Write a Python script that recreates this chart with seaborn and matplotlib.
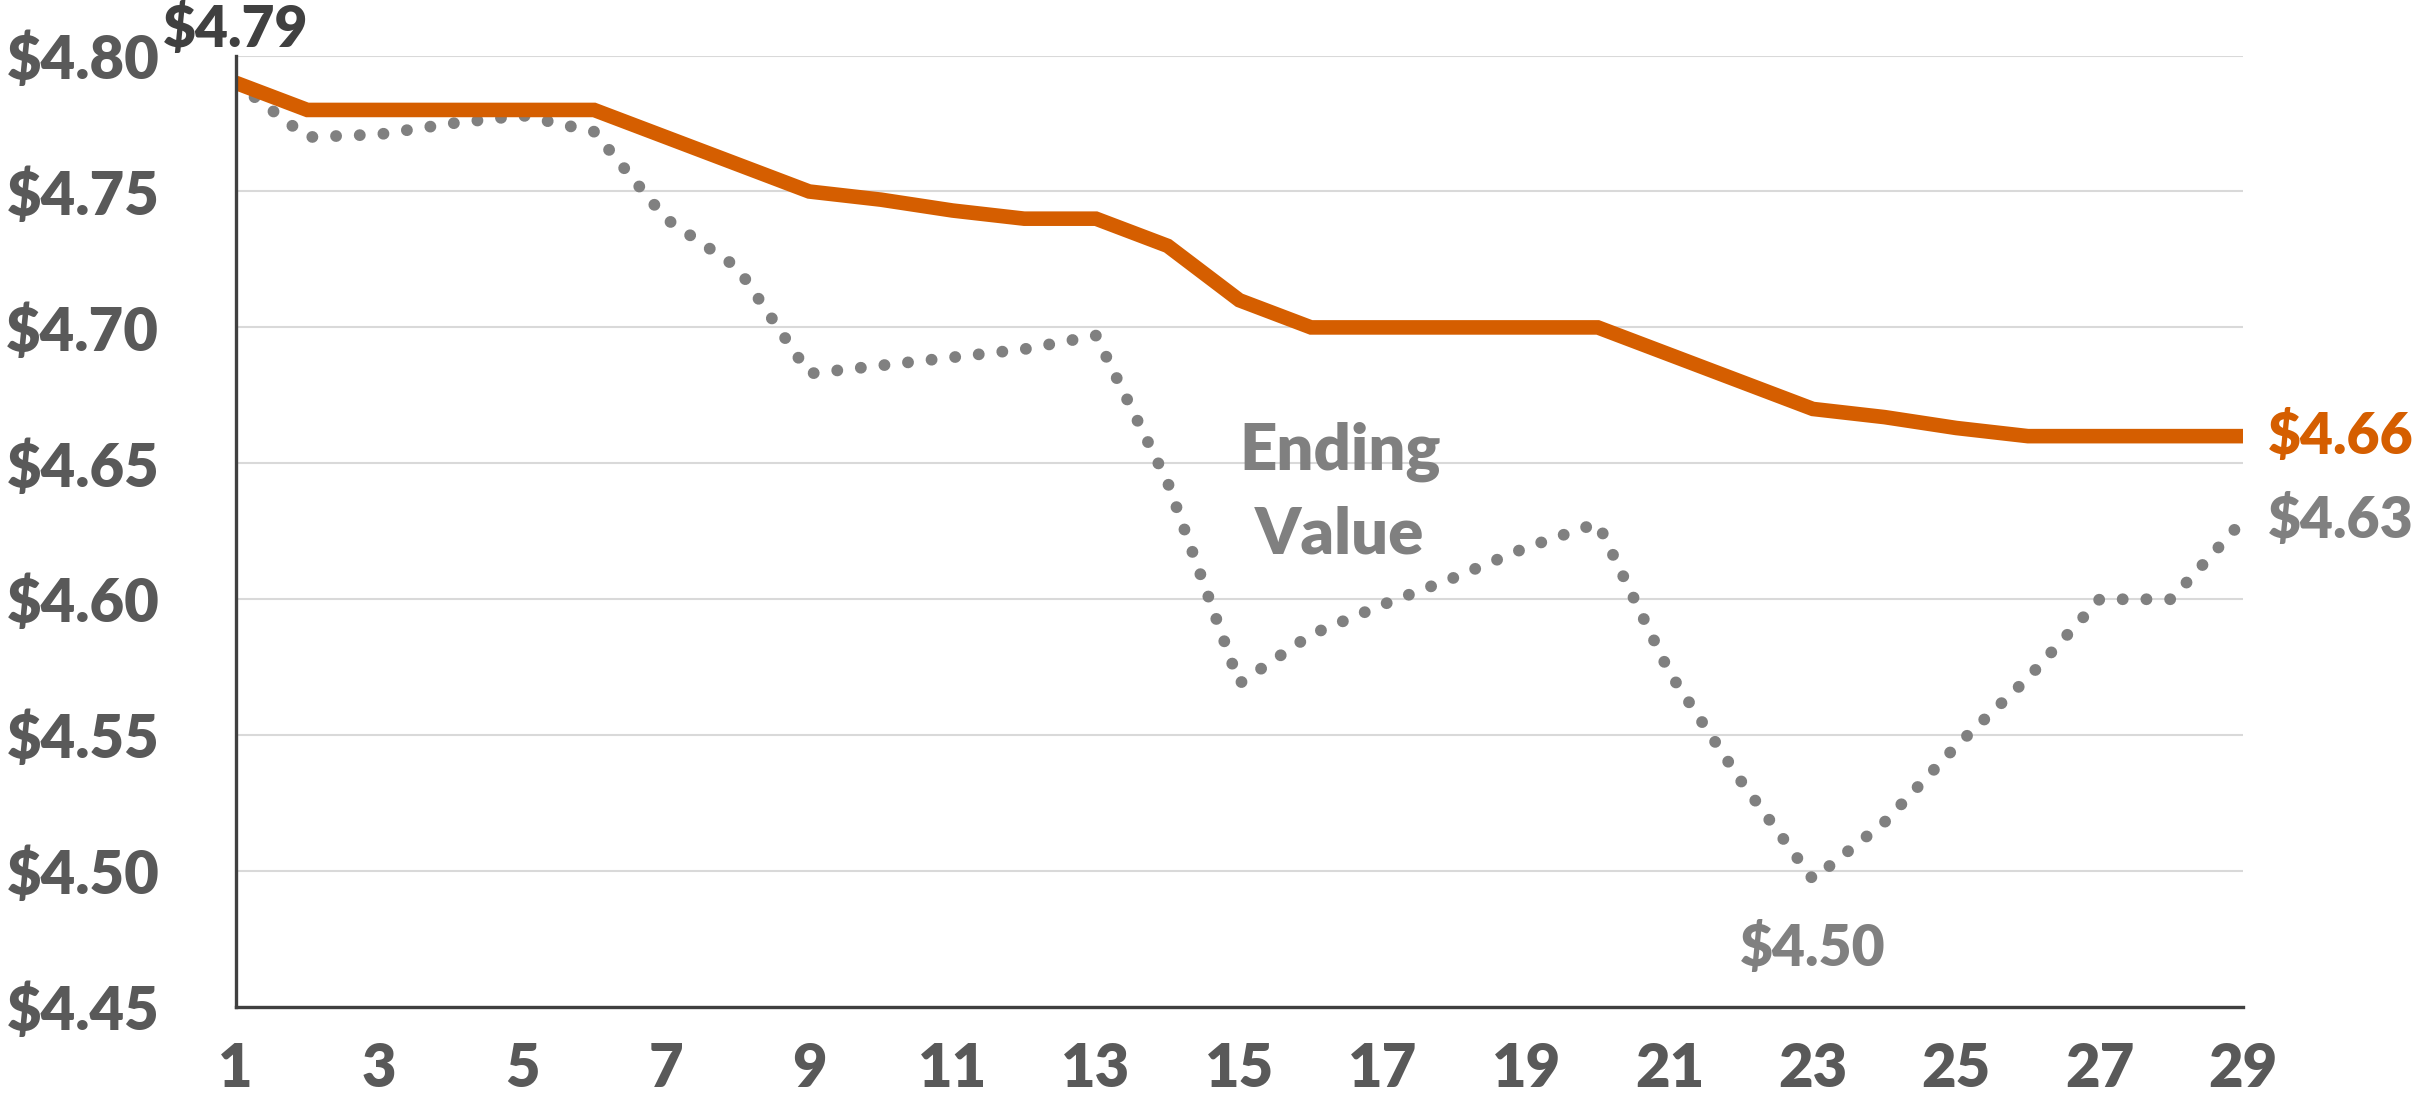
import numpy as np
import pandas as pd
import matplotlib
matplotlib.use("Agg")
import matplotlib.pyplot as plt
from matplotlib.ticker import FuncFormatter, FixedLocator
import seaborn as sns

# Data
days = list(range(1, 30))
average_value = [4.79, 4.78, 4.78, 4.78, 4.78, 4.78, 4.77, 4.76, 4.75, 4.747,
                 4.743, 4.74, 4.74, 4.73, 4.71, 4.70, 4.70, 4.70, 4.70, 4.70,
                 4.69, 4.68, 4.67, 4.667, 4.663, 4.66, 4.66, 4.66, 4.66]
ending_value = [4.79, 4.77, 4.771, 4.775, 4.778, 4.772, 4.74, 4.722, 4.683, 4.686,
                4.689, 4.692, 4.697, 4.643, 4.569, 4.587, 4.598, 4.608, 4.619, 4.628,
                4.573, 4.533, 4.497, 4.518, 4.546, 4.571, 4.60, 4.60, 4.629]
y_ticks = [4.45, 4.50, 4.55, 4.60, 4.65, 4.70, 4.75, 4.80]

df = pd.DataFrame({"day": days, "average": average_value, "ending": ending_value})

ORANGE = "#D55E00"
GRAY = "#808080"
DARK = "#404040"
LABEL = "#595959"

sns.set_style("white")
plt.rcParams["font.family"] = ["Lato", "DejaVu Sans"]
plt.rcParams["font.weight"] = "heavy"

fig = plt.figure(figsize=(24.22, 11.05), dpi=100)
ax = fig.add_axes([0.0973, 0.0887, 0.8288, 0.861])

# dotted "ending value" line first so the orange line sits on top
sns.lineplot(data=df, x="day", y="ending", ax=ax, color=GRAY, lw=8.5,
             linestyle=(0, (0.01, 2.0)), dash_capstyle="round")
sns.lineplot(data=df, x="day", y="average", ax=ax, color=ORANGE, lw=10.5,
             solid_capstyle="butt", solid_joinstyle="miter")

ax.set_xlim(1, 29)
ax.set_ylim(4.45, 4.80)
ax.set_xlabel("")
ax.set_ylabel("")

ax.xaxis.set_major_locator(FixedLocator(range(1, 30, 2)))
ax.xaxis.set_minor_locator(FixedLocator(range(2, 29, 2)))
ax.set_yticks(y_ticks)
ax.yaxis.set_major_formatter(FuncFormatter(lambda v, p: f"${v:.2f}"))

ax.tick_params(axis="x", which="major", direction="inout", length=26, width=1.6,
               color=DARK, labelsize=43, labelcolor=LABEL, pad=12)
ax.tick_params(axis="x", which="minor", direction="in", length=11, width=1.6, color=DARK)
ax.tick_params(axis="y", direction="out", length=15, width=2.2, color=DARK,
               labelsize=43, labelcolor=LABEL, pad=40)

ax.grid(axis="y", color="#D9D9D9", lw=1.5)
ax.grid(axis="x", visible=False)
ax.set_axisbelow(True)
for side in ["top", "right"]:
    ax.spines[side].set_visible(False)
for side in ["left", "bottom"]:
    ax.spines[side].set_color(DARK)
    ax.spines[side].set_linewidth(2.4)

# annotations
ax.annotate(f"${average_value[0]:.2f}", (days[0], average_value[0]), xytext=(0, 26),
            textcoords="offset points", ha="center", va="baseline",
            fontsize=41, color=DARK, fontweight="heavy", annotation_clip=False)
ax.annotate(f"${average_value[-1]:.2f}", (days[-1], average_value[-1]), xytext=(18, 0),
            textcoords="offset points", ha="left", va="center",
            fontsize=41, color=ORANGE, fontweight="heavy", annotation_clip=False)
ax.annotate(f"${ending_value[-1]:.2f}", (days[-1], ending_value[-1]), xytext=(18, 0),
            textcoords="offset points", ha="left", va="center",
            fontsize=41, color=GRAY, fontweight="heavy", annotation_clip=False)
low = int(np.argmin(ending_value))
ax.annotate(f"${ending_value[low]:.2f}", (days[low], ending_value[low]), xytext=(0, -50),
            textcoords="offset points", ha="center", va="center",
            fontsize=41, color=GRAY, fontweight="heavy", annotation_clip=False)
ax.text(16.4, 4.639, "Ending\nValue", ha="center", va="center", fontsize=47,
        color=GRAY, fontweight="heavy", linespacing=1.5)

fig.savefig("out.png", dpi=100)
